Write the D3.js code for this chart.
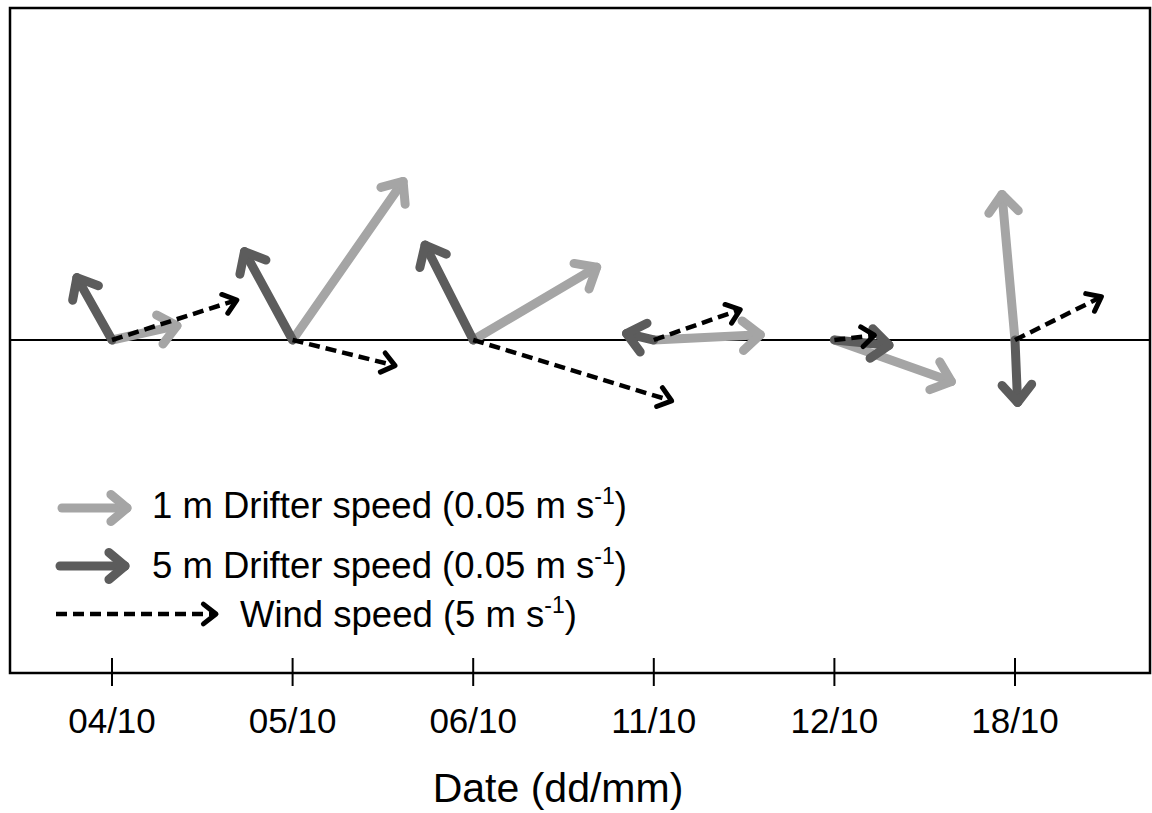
<!DOCTYPE html>
<meta charset="utf-8">
<style>
body { margin: 0; background: #fff; }
text { font-family: "Liberation Sans", Arial, sans-serif; fill: #000; }
</style>
<svg width="1152" height="813"></svg>
<script src="https://d3js.org/d3.v7.min.js"></script>
<script>

// dates along the axis
var dates = ["04/10", "05/10", "06/10", "11/10", "12/10", "18/10"];

// 1 m drifter (cm/s, east / north)
var u1 = [5.0, 8.5, 9.5, 8.2, 9.0, -1.0];
var v1 = [1.1, 12.2, 5.6, 0.4, -3.2, 11.2];

// 5 m drifter (cm/s)
var u5 = [-2.7, -3.7, -3.7, -2.1, 4.2, 0.2];
var v5 = [4.8, 6.8, 7.3, 0.5, -0.4, -4.8];

// wind (m/s)
var uw = [3.9, 3.2, 6.2, 2.7, 1.25, 2.7];
var vw = [1.25, -0.8, -1.9, 0.95, 0.15, 1.35];

var legendLabels = ["1 m Drifter speed (0.05 m s", "5 m Drifter speed (0.05 m s", "Wind speed (5 m s"];

var svg = d3.select("svg");

var frameL = 10, frameR = 1150, frameT = 8, frameB = 673, y0 = 340;

var x = d3.scalePoint().domain(dates).range([112, 1015]);
var drift = d3.scaleLinear().domain([0, 5]).range([0, 65]);   // cm/s -> px
var wind = d3.scaleLinear().domain([0, 5]).range([0, 160]);   // m/s -> px

var light = "#a5a5a5", dark = "#5c5c5c";

// frame
svg.append("rect")
  .attr("x", frameL).attr("y", frameT)
  .attr("width", frameR - frameL).attr("height", frameB - frameT)
  .attr("fill", "none").attr("stroke", "#000").attr("stroke-width", 2.5);

// zero line
svg.append("line")
  .attr("x1", frameL).attr("x2", frameR)
  .attr("y1", y0).attr("y2", y0)
  .attr("stroke", "#000").attr("stroke-width", 2);

// ticks + labels
svg.selectAll(".tick").data(dates).enter().append("line")
  .attr("x1", function(d) { return x(d); })
  .attr("x2", function(d) { return x(d); })
  .attr("y1", 658).attr("y2", 686)
  .attr("stroke", "#000").attr("stroke-width", 2);

svg.selectAll(".tlab").data(dates).enter().append("text")
  .attr("x", function(d) { return x(d); })
  .attr("y", 733)
  .attr("text-anchor", "middle")
  .attr("font-size", "35px")
  .text(function(d) { return d; });

svg.append("text")
  .attr("x", 558).attr("y", 802)
  .attr("text-anchor", "middle")
  .attr("font-size", "41px")
  .text("Date (dd/mm)");

// arrow: shaft + open chevron head
function arrow(g, xa, ya, xb, yb, color, width, head, spread, dash) {
  var ang = Math.atan2(yb - ya, xb - xa);
  g.append("line")
    .attr("x1", xa).attr("y1", ya).attr("x2", xb).attr("y2", yb)
    .attr("stroke", color).attr("stroke-width", width)
    .attr("stroke-linecap", dash ? "butt" : "round")
    .attr("stroke-dasharray", dash || null);
  var p = [
    [xb - head * Math.cos(ang - spread), yb - head * Math.sin(ang - spread)],
    [xb, yb],
    [xb - head * Math.cos(ang + spread), yb - head * Math.sin(ang + spread)]
  ];
  g.append("path")
    .attr("d", d3.line()(p))
    .attr("fill", "none")
    .attr("stroke", color).attr("stroke-width", dash ? width + 0.5 : width)
    .attr("stroke-linecap", "round").attr("stroke-linejoin", "round");
}

var g = svg.append("g");
var sp = 40 * Math.PI / 180, wsp = 38 * Math.PI / 180;

dates.forEach(function(d, i) {
  var ox = x(d);
  arrow(g, ox, y0, ox + drift(u1[i]), y0 - drift(v1[i]), light, 9, 23, sp);
});
dates.forEach(function(d, i) {
  var ox = x(d);
  arrow(g, ox, y0, ox + drift(u5[i]), y0 - drift(v5[i]), dark, 9, 23, sp);
});
dates.forEach(function(d, i) {
  var ox = x(d);
  arrow(g, ox, y0, ox + wind(uw[i]), y0 - wind(vw[i]), "#000", 4.5, 16, wsp, "11,6");
});

// legend
var lg = svg.append("g");
arrow(lg, 62, 508, 62 + drift(5), 508, light, 9, 21, sp);
arrow(lg, 60, 566, 60 + drift(5), 566, dark, 9, 21, sp);
arrow(lg, 56, 614, 56 + wind(5), 614, "#000", 4.5, 16, wsp, "11,6");

var lx = [152, 152, 240], ly = [518, 578, 627];
legendLabels.forEach(function(t, i) {
  var tx = lg.append("text")
    .attr("x", lx[i]).attr("y", ly[i])
    .attr("font-size", "36.5px");
  tx.append("tspan").text(t);
  tx.append("tspan").attr("dy", -14).attr("font-size", "23px").text("-1");
  tx.append("tspan").attr("dy", 14).text(")");
});

</script>
